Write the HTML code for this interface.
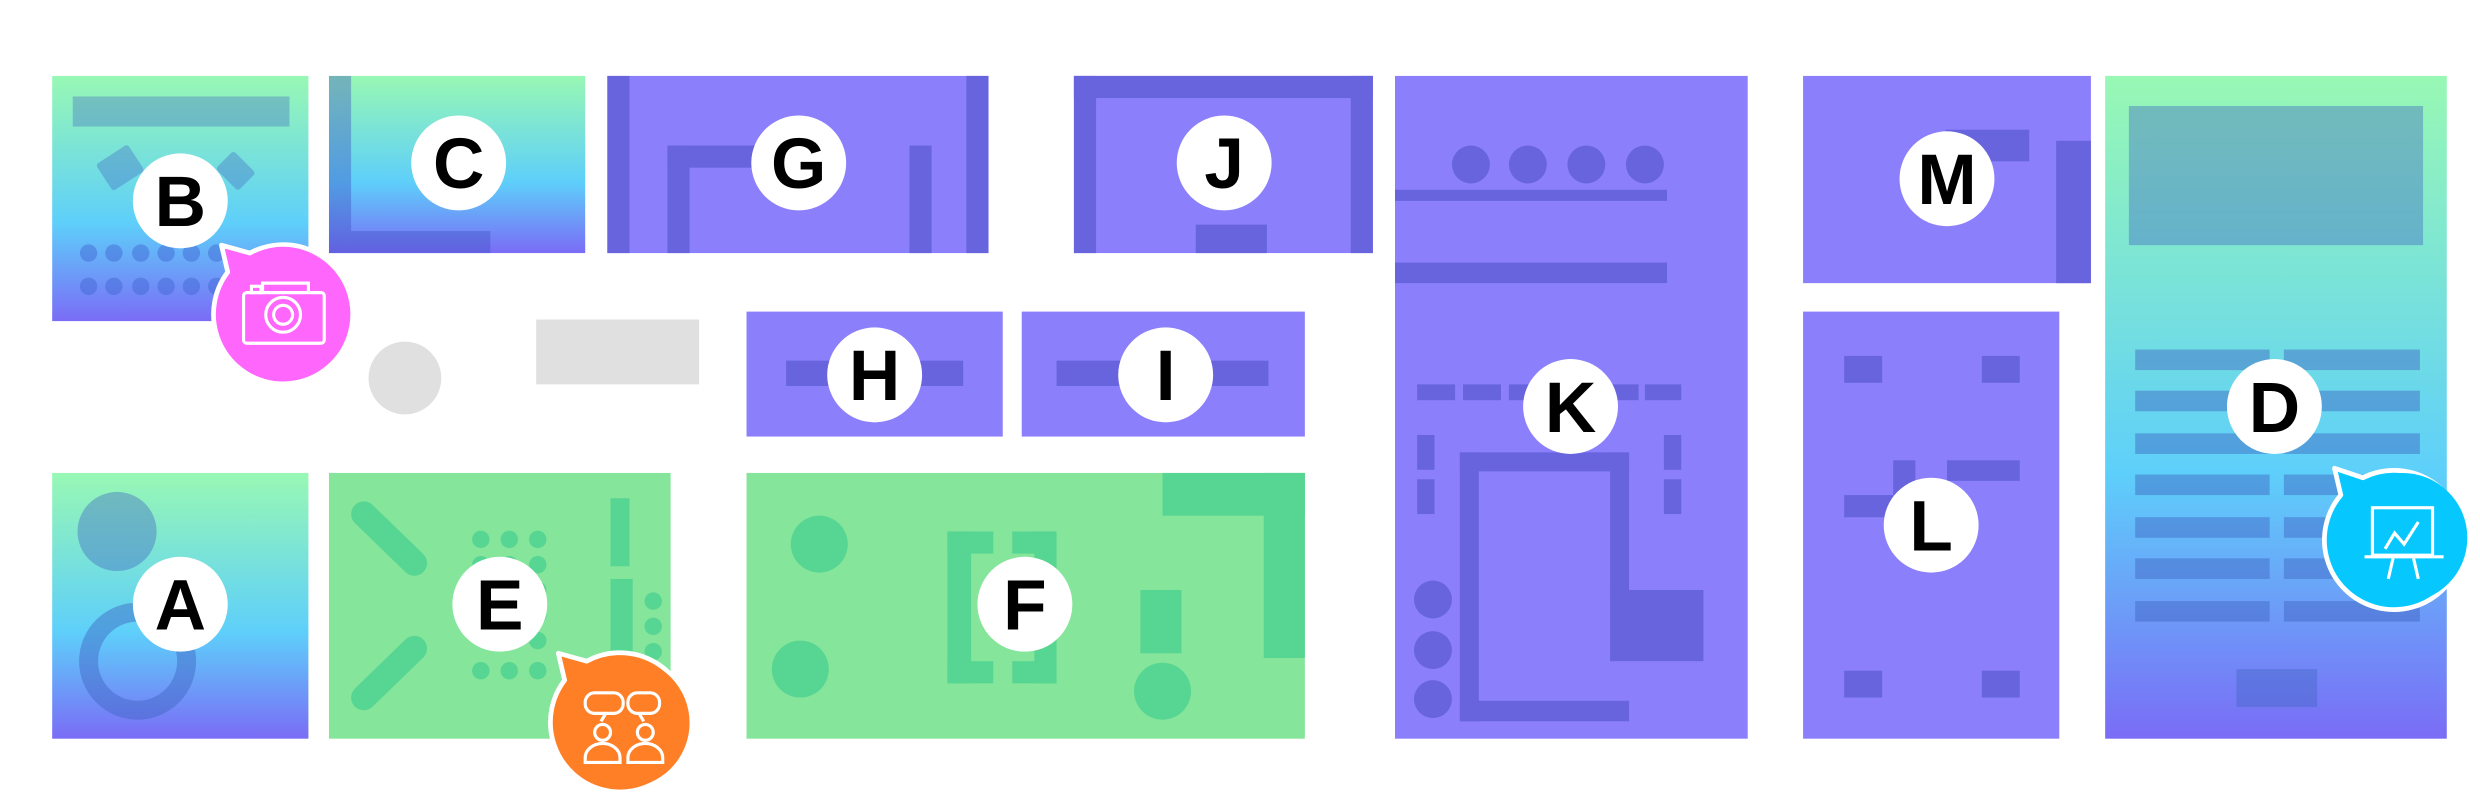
<!DOCTYPE html>
<html><head><meta charset="utf-8"><style>
html,body{margin:0;padding:0;background:#fff;}
svg{display:block;}
text{font-family:"Liberation Sans",sans-serif;font-weight:bold;}
</style></head><body>
<svg width="2480" height="798" viewBox="0 0 1568 504.5" preserveAspectRatio="none" xmlns="http://www.w3.org/2000/svg">
<defs>
<linearGradient id="gr" x1="0" y1="0" x2="0" y2="1">
<stop offset="0" stop-color="#98f8b4"/><stop offset="0.6" stop-color="#5ecffa"/><stop offset="1" stop-color="#7a6cf6"/>
</linearGradient>
</defs>
<rect width="1568" height="504.5" fill="#fff"/>
<!-- B -->
<rect x="33" y="48" width="162" height="155" fill="url(#gr)"/>
<g fill="#3f64c0" fill-opacity="0.35">
<rect x="46" y="61" width="137" height="19"/>
<rect x="64" y="96" width="24" height="20" rx="2" transform="rotate(-33 76 106)"/>
<rect x="139" y="100" width="20" height="16" rx="2" transform="rotate(45 149 108)"/>
</g>
<g fill="#3f64d0" fill-opacity="0.45">
<circle cx="56" cy="160" r="5.5"/><circle cx="72" cy="160" r="5.5"/><circle cx="89" cy="160" r="5.5"/><circle cx="105" cy="160" r="5.5"/><circle cx="121" cy="160" r="5.5"/><circle cx="137" cy="160" r="5.5"/>
<circle cx="56" cy="181" r="5.5"/><circle cx="72" cy="181" r="5.5"/><circle cx="89" cy="181" r="5.5"/><circle cx="105" cy="181" r="5.5"/><circle cx="121" cy="181" r="5.5"/><circle cx="137" cy="181" r="5.5"/>
</g>
<!-- C -->
<rect x="208" y="48" width="162" height="112" fill="url(#gr)"/>
<g fill="#3f50c0" fill-opacity="0.4"><rect x="208" y="48" width="14" height="112"/><rect x="222" y="146" width="88" height="14"/></g>
<!-- G -->
<rect x="384" y="48" width="241" height="112" fill="#8c7ffc"/>
<g fill="#6764de"><rect x="384" y="48" width="14" height="112"/><rect x="611" y="48" width="14" height="112"/><rect x="422" y="92" width="14" height="68"/><rect x="422" y="92" width="83" height="14"/><rect x="575" y="92" width="14" height="68"/></g>
<!-- J -->
<rect x="679" y="48" width="189" height="112" fill="#8c7ffc"/>
<g fill="#6764de"><rect x="679" y="48" width="189" height="14"/><rect x="679" y="48" width="14" height="112"/><rect x="854" y="48" width="14" height="112"/><rect x="756" y="142" width="45" height="18"/></g>
<!-- K -->
<rect x="882" y="48" width="223" height="419" fill="#8c7ffc"/>
<g fill="#6764de">
<circle cx="930" cy="104" r="12"/><circle cx="966" cy="104" r="12"/><circle cx="1003" cy="104" r="12"/><circle cx="1040" cy="104" r="12"/>
<rect x="882" y="120" width="172" height="7"/><rect x="882" y="166" width="172" height="13"/>
<rect x="896" y="243" width="24" height="10"/><rect x="925" y="243" width="24" height="10"/><rect x="954" y="243" width="24" height="10"/><rect x="983" y="243" width="24" height="10"/><rect x="1012" y="243" width="24" height="10"/><rect x="1040" y="243" width="23" height="10"/>
<rect x="896" y="275" width="11" height="22"/><rect x="896" y="303" width="11" height="22"/><rect x="1052" y="275" width="11" height="22"/><rect x="1052" y="303" width="11" height="22"/>
<rect x="923" y="286" width="12" height="170"/><rect x="923" y="286" width="107" height="12"/><rect x="1018" y="286" width="12" height="90"/><rect x="923" y="443" width="107" height="13"/>
<rect x="1018" y="373" width="59" height="45"/>
<circle cx="906" cy="379" r="12"/><circle cx="906" cy="411" r="12"/><circle cx="906" cy="442" r="12"/>
</g>
<!-- M -->
<rect x="1140" y="48" width="182" height="131" fill="#8c7ffc"/>
<g fill="#6764de"><rect x="1230" y="82" width="53" height="20"/><rect x="1300" y="89" width="22" height="90"/></g>
<!-- D -->
<rect x="1331" y="48" width="216" height="419" fill="url(#gr)"/>
<g fill="#3f64c0" fill-opacity="0.4">
<rect x="1346" y="67" width="186" height="88"/>
<rect x="1414" y="423" width="51" height="24"/>
</g>
<g fill="#3f64c0" fill-opacity="0.45">
<rect x="1350" y="221" width="85" height="13"/><rect x="1444" y="221" width="86" height="13"/>
<rect x="1350" y="247" width="85" height="13"/><rect x="1444" y="247" width="86" height="13"/>
<rect x="1350" y="274" width="85" height="13"/><rect x="1444" y="274" width="86" height="13"/>
<rect x="1350" y="300" width="85" height="13"/><rect x="1444" y="300" width="86" height="13"/>
<rect x="1350" y="327" width="85" height="13"/><rect x="1444" y="327" width="86" height="13"/>
<rect x="1350" y="353" width="85" height="13"/><rect x="1444" y="353" width="86" height="13"/>
<rect x="1350" y="380" width="85" height="13"/><rect x="1444" y="380" width="86" height="13"/>
</g>
<!-- gray -->
<circle cx="256" cy="239" r="23" fill="#e0e0e0"/>
<rect x="339" y="202" width="103" height="41" fill="#e0e0e0"/>
<!-- H I -->
<rect x="472" y="197" width="162" height="79" fill="#8c7ffc"/>
<rect x="497" y="228" width="112" height="16" fill="#6764de"/>
<rect x="646" y="197" width="179" height="79" fill="#8c7ffc"/>
<rect x="668" y="228" width="134" height="16" fill="#6764de"/>
<!-- L -->
<rect x="1140" y="197" width="162" height="270" fill="#8c7ffc"/>
<g fill="#6764de"><rect x="1166" y="225" width="24" height="17"/><rect x="1253" y="225" width="24" height="17"/><rect x="1166" y="424" width="24" height="17"/><rect x="1253" y="424" width="24" height="17"/>
<rect x="1197" y="291" width="14" height="22"/><rect x="1231" y="291" width="46" height="13"/><rect x="1166" y="313" width="31" height="14"/></g>
<!-- A -->
<rect x="33" y="299" width="162" height="168" fill="url(#gr)"/>
<circle cx="74" cy="336" r="25" fill="#3f64c0" fill-opacity="0.4"/>
<circle cx="87" cy="418" r="31" fill="none" stroke="#3f64c0" stroke-opacity="0.45" stroke-width="12"/>
<!-- E -->
<rect x="208" y="299" width="216" height="168" fill="#85e59a"/>
<g fill="#57d592" stroke="#57d592">
<line x1="230" y1="325" x2="262" y2="356" stroke-width="16" stroke-linecap="round"/>
<line x1="230" y1="441" x2="262" y2="410" stroke-width="16" stroke-linecap="round"/>
</g>
<g fill="#57d592">
<circle cx="304" cy="341" r="5.5"/><circle cx="322" cy="341" r="5.5"/><circle cx="340" cy="341" r="5.5"/>
<circle cx="304" cy="357" r="5.5"/><circle cx="322" cy="357" r="5.5"/><circle cx="340" cy="357" r="5.5"/>
<circle cx="340" cy="373" r="5.5"/><circle cx="340" cy="389" r="5.5"/><circle cx="340" cy="405" r="5.5"/>
<circle cx="304" cy="424" r="5.5"/><circle cx="322" cy="424" r="5.5"/><circle cx="340" cy="424" r="5.5"/>
<rect x="386" y="315" width="12" height="43"/><rect x="386" y="366" width="14" height="54"/>
<circle cx="413" cy="380" r="5.5"/><circle cx="413" cy="396" r="5.5"/><circle cx="413" cy="412" r="5.5"/>
</g>
<!-- F -->
<rect x="472" y="299" width="353" height="168" fill="#85e59a"/>
<g fill="#57d592">
<circle cx="518" cy="344" r="18"/><circle cx="506" cy="423" r="18"/><circle cx="735" cy="437" r="18"/>
<rect x="599" y="336" width="15" height="96"/><rect x="599" y="336" width="29" height="14"/><rect x="599" y="418" width="29" height="14"/>
<rect x="654" y="336" width="14" height="96"/><rect x="640" y="336" width="28" height="14"/><rect x="640" y="418" width="28" height="14"/>
<rect x="721" y="373" width="26" height="40"/>
<rect x="735" y="299" width="90" height="27"/><rect x="799" y="299" width="26" height="117"/>
</g>
<!-- labels -->
<g fill="#fff">
<circle cx="114" cy="127" r="30"/><circle cx="290" cy="103" r="30"/><circle cx="505" cy="103" r="30"/><circle cx="774" cy="103" r="30"/>
<circle cx="1231" cy="113" r="30"/><circle cx="553" cy="237" r="30"/><circle cx="737" cy="237" r="30"/><circle cx="993" cy="257" r="30"/>
<circle cx="1438" cy="257" r="30"/><circle cx="1221" cy="332" r="30"/><circle cx="114" cy="382" r="30"/><circle cx="316" cy="382" r="30"/><circle cx="648" cy="382" r="30"/>
</g>
<g font-size="45" text-anchor="middle" fill="#000">
<text x="114" y="143">B</text><text x="290" y="119">C</text><text x="505" y="119">G</text><text x="774" y="119">J</text>
<text x="1231" y="129">M</text><text x="553" y="253">H</text><text x="737" y="253">I</text><text x="993" y="273">K</text>
<text x="1438" y="273">D</text><text x="1221" y="348">L</text><text x="114" y="398">A</text><text x="316" y="398">E</text><text x="648" y="398">F</text>
</g>
<!-- badges -->
<g stroke="#fff" stroke-width="3" stroke-linejoin="round">
<path d="M140,155 L158,160 A44,44 0 1 1 144,172 Z" fill="#ff66fb"/>
<path d="M353,413 L371,418 A44,44 0 1 1 357,430 Z" fill="#ff7f27"/>
<path d="M1476,296 L1494,302 A44,44 0 1 1 1480,313 Z" fill="#06c8ff"/>
</g>
<g fill="#ff66fb"><circle cx="179" cy="197" r="41"/></g>
<g fill="#ff7f27"><circle cx="395" cy="457" r="41"/></g>
<g fill="#06c8ff"><circle cx="1519" cy="340" r="41"/></g>
<!-- camera -->
<g fill="none" stroke="#fff" stroke-width="2">
<rect x="154" y="185" width="51" height="32" rx="2"/>
<path d="M166,185 v-6 h29 v6"/><rect x="159" y="181" width="6" height="4"/>
<circle cx="179" cy="199" r="11"/><circle cx="179" cy="199" r="6"/>
</g>
<!-- people -->
<g fill="none" stroke="#fff" stroke-width="2">
<rect x="370" y="438" width="24" height="13" rx="6"/><rect x="397" y="438" width="20" height="13" rx="6"/>
<path d="M383,451 l-3,5 M404,451 l3,5"/>
<circle cx="381" cy="463" r="5"/><circle cx="408" cy="463" r="5"/>
<path d="M370,482 v-3 a11,9 0 0 1 22,0 v3 Z"/><path d="M397,482 v-3 a11,9 0 0 1 22,0 v3 Z"/>
</g>
<!-- presentation -->
<g fill="none" stroke="#fff" stroke-width="2">
<rect x="1500" y="321" width="38" height="30"/><line x1="1495" y1="352" x2="1545" y2="352"/>
<path d="M1508,347 l6,-10 l6,7 l9,-14"/>
<path d="M1513,353 l-3,13 M1526,353 l3,13"/>
</g>
</svg>
</body></html>
